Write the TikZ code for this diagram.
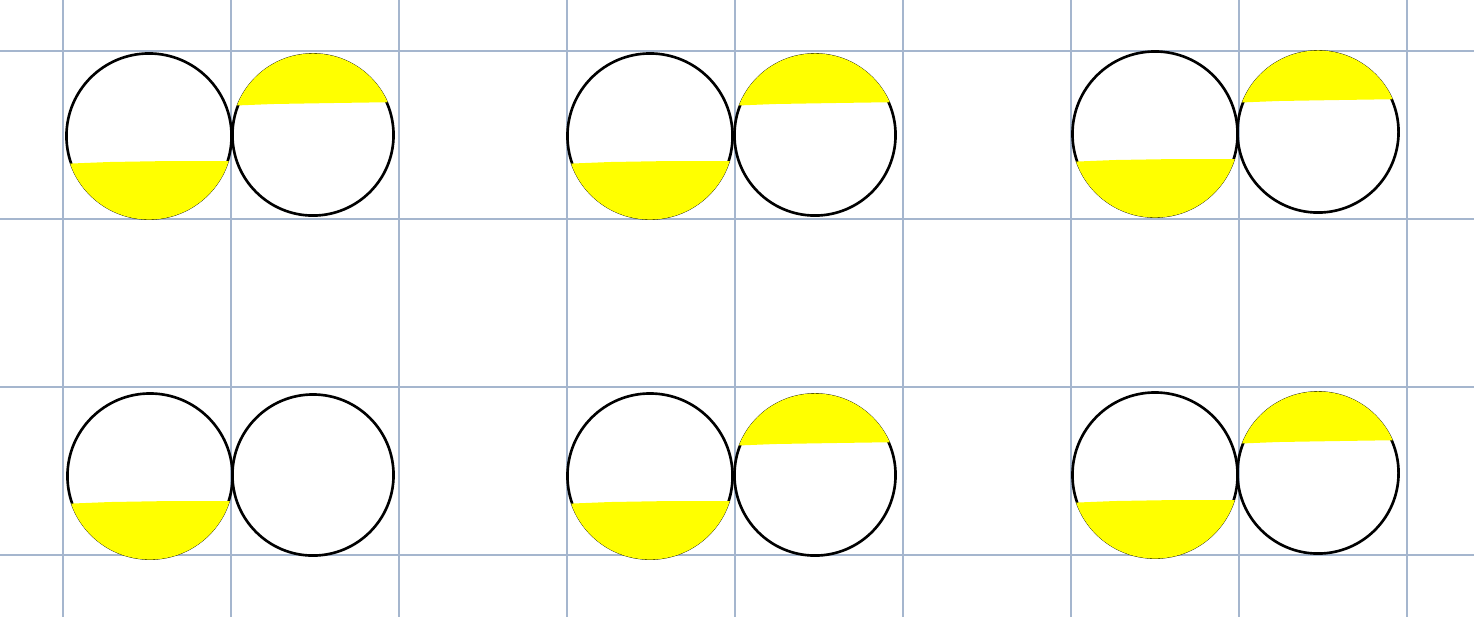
\documentclass[tikz,border=0pt]{standalone}
\usetikzlibrary{calc}
\definecolor{gridblue}{RGB}{165,182,206}
\definecolor{hl}{RGB}{255,255,0}
\tikzset{
  ring/.style={circle,draw=black,line width=0.75pt,inner sep=0pt,minimum size=#1},
  gridline/.style={draw=gridblue,line width=0.65pt}
}
\begin{document}
\begin{tikzpicture}[x=0.01cm,y=-0.01cm]
\useasboundingbox[fill=white] (0,0) rectangle (1474,617);
\foreach \x in {63,231,...,1407} \draw[gridline] (\x,0) -- (\x,617);
\foreach \y in {51,219,387,555} \draw[gridline] (0,\y) -- (1474,\y);
\foreach \lx/\ly/\rx/\ry/\t/\n in {149/136/313/135/1/p1, 650/136/815/135/1/p2, 1155/134/1318/132/1/p3, 150/476/313/475/0/p4, 650/476/815/475/1/p5, 1155/475/1318/473/1/p6}{
  \node[ring=1.65cm] (\n l) at (\lx,\ly) {};
  \node[ring=1.61cm] (\n r) at (\rx,\ry) {};
  \begin{scope}
    \clip (\n l.center) circle (0.835cm);
    \fill[hl] ($(\n l.center)+(-90,28)$) -- ($(\n l.center)+(-40,26)$) -- ($(\n l.center)+(20,25)$) -- ($(\n l.center)+(90,25)$)
      -- ($(\n l.center)+(90,90)$) -- ($(\n l.center)+(-90,90)$) -- cycle;
  \end{scope}
  \ifnum\t=1
  \begin{scope}
    \clip (\n r.center) circle (0.815cm);
    \fill[hl] ($(\n r.center)+(-90,-29)$) -- ($(\n r.center)+(-40,-31)$) -- ($(\n r.center)+(20,-32)$) -- ($(\n r.center)+(90,-33)$)
      -- ($(\n r.center)+(90,-90)$) -- ($(\n r.center)+(-90,-90)$) -- cycle;
  \end{scope}
  \fi
}
\end{tikzpicture}
\end{document}
